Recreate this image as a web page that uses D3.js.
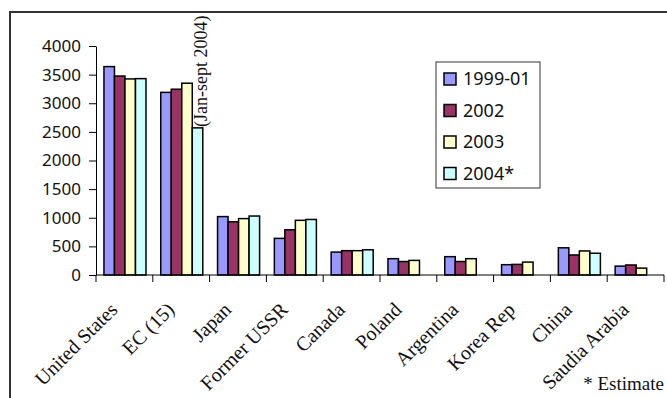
<!DOCTYPE html>
<html><head><meta charset="utf-8">
<script src="https://cdn.jsdelivr.net/npm/d3@7"></script>
<style>html,body{margin:0;padding:0;background:#fff;overflow:hidden}</style>
</head><body>
<svg id="c" width="667" height="398"></svg>
<script>
const categories = ["United States","EC (15)","Japan","Former USSR","Canada","Poland","Argentina","Korea Rep","China","Saudia Arabia"];
const seriesNames = ["1999-01","2002","2003","2004*"];
const s1999 = [3640,3190,1020,640,400,285,320,180,475,155];
const s2002 = [3475,3245,930,790,425,235,235,185,350,175];
const s2003 = [3425,3350,985,955,425,255,285,225,420,120];
const s2004 = [3430,2570,1030,970,440,null,null,null,380,null];
const yTicks = [0,500,1000,1500,2000,2500,3000,3500,4000];
const colors = ["#9999FF","#993366","#FFFFCC","#CCFFFF"];
const annotation = "(Jan-sept 2004)";
const footnote = "* Estimate";

const seriesVals = [s1999,s2002,s2003,s2004];
const svg = d3.select("#c");
const sans = "'Noto Sans', sans-serif", serif = "'Liberation Serif', serif";

// frame
svg.append("rect").attr("x",10).attr("y",12).attr("width",720).attr("height",450)
  .attr("fill","none").attr("stroke","#333").attr("stroke-width",2);

const x0 = d3.scaleBand().domain(categories).range([96,664]).padding(0);
const bw = x0.bandwidth();
const x1 = d3.scaleBand().domain(seriesNames).range([bw*0.14, bw*0.88]).padding(0);
const y = d3.scaleLinear().domain([0,4000]).range([275,46]);

// y axis
const ya = svg.append("g").attr("transform","translate(96,0)")
  .call(d3.axisLeft(y).tickValues(yTicks).tickFormat(d3.format("d")).tickSize(7).tickPadding(8).tickSizeOuter(0));
ya.select(".domain").attr("stroke","#000");
ya.selectAll(".tick line").attr("stroke","#000");
ya.selectAll(".tick text").attr("font-family",sans).attr("font-size",17).attr("fill","#111");

// bars
const data = [];
categories.forEach((c,i)=>seriesNames.forEach((s,j)=>{
  const v = seriesVals[j][i];
  if (v!=null) data.push({c,s,v,j});
}));
svg.append("g").selectAll("rect").data(data).join("rect")
  .attr("x",d=>x0(d.c)+x1(d.s)).attr("width",x1.bandwidth())
  .attr("y",d=>y(d.v)).attr("height",d=>y(0)-y(d.v))
  .attr("fill",d=>colors[d.j]).attr("stroke","#000").attr("stroke-width",1.5);

// x axis
const xa = svg.append("g").attr("transform","translate(0,275)");
xa.append("line").attr("x1",96).attr("x2",664).attr("stroke","#000");
const bounds = categories.map(c=>x0(c)).concat([x0.range()[1]]);
xa.selectAll("line.t").data(bounds).join("line").attr("class","t")
  .attr("x1",d=>d).attr("x2",d=>d).attr("y1",0).attr("y2",7).attr("stroke","#000");
svg.append("g").selectAll("text").data(categories).join("text")
  .attr("transform",d=>`translate(${x0(d)+bw/2},284) rotate(-45)`)
  .attr("text-anchor","end").attr("dx",-23).attr("dy",15)
  .attr("font-family",serif).attr("font-size",20).attr("fill","#111").text(d=>d);

// annotation
svg.append("text").attr("transform",`translate(${x0("EC (15)")+x1("2004*")+x1.bandwidth()+4},127) rotate(-90)`)
  .attr("font-family",serif).attr("font-size",18).attr("fill","#111").text(annotation);

// legend
const lg = svg.append("g");
lg.append("rect").attr("x",436).attr("y",62).attr("width",104).attr("height",126)
  .attr("fill","#fff").attr("stroke","#333").attr("stroke-width",1);
seriesNames.forEach((s,i)=>{
  const cy = 79 + i*31.5;
  lg.append("rect").attr("x",444).attr("y",cy-6).attr("width",12).attr("height",12)
    .attr("fill",colors[i]).attr("stroke","#000").attr("stroke-width",1.5);
  lg.append("text").attr("x",463).attr("y",cy).attr("dy","0.36em")
    .attr("font-family",sans).attr("font-size",18).attr("fill","#111").text(s);
});

// footnote
svg.append("text").attr("x",664).attr("y",390).attr("text-anchor","end")
  .attr("font-family",serif).attr("font-size",19).attr("fill","#111").text(footnote);
</script>
</body></html>
